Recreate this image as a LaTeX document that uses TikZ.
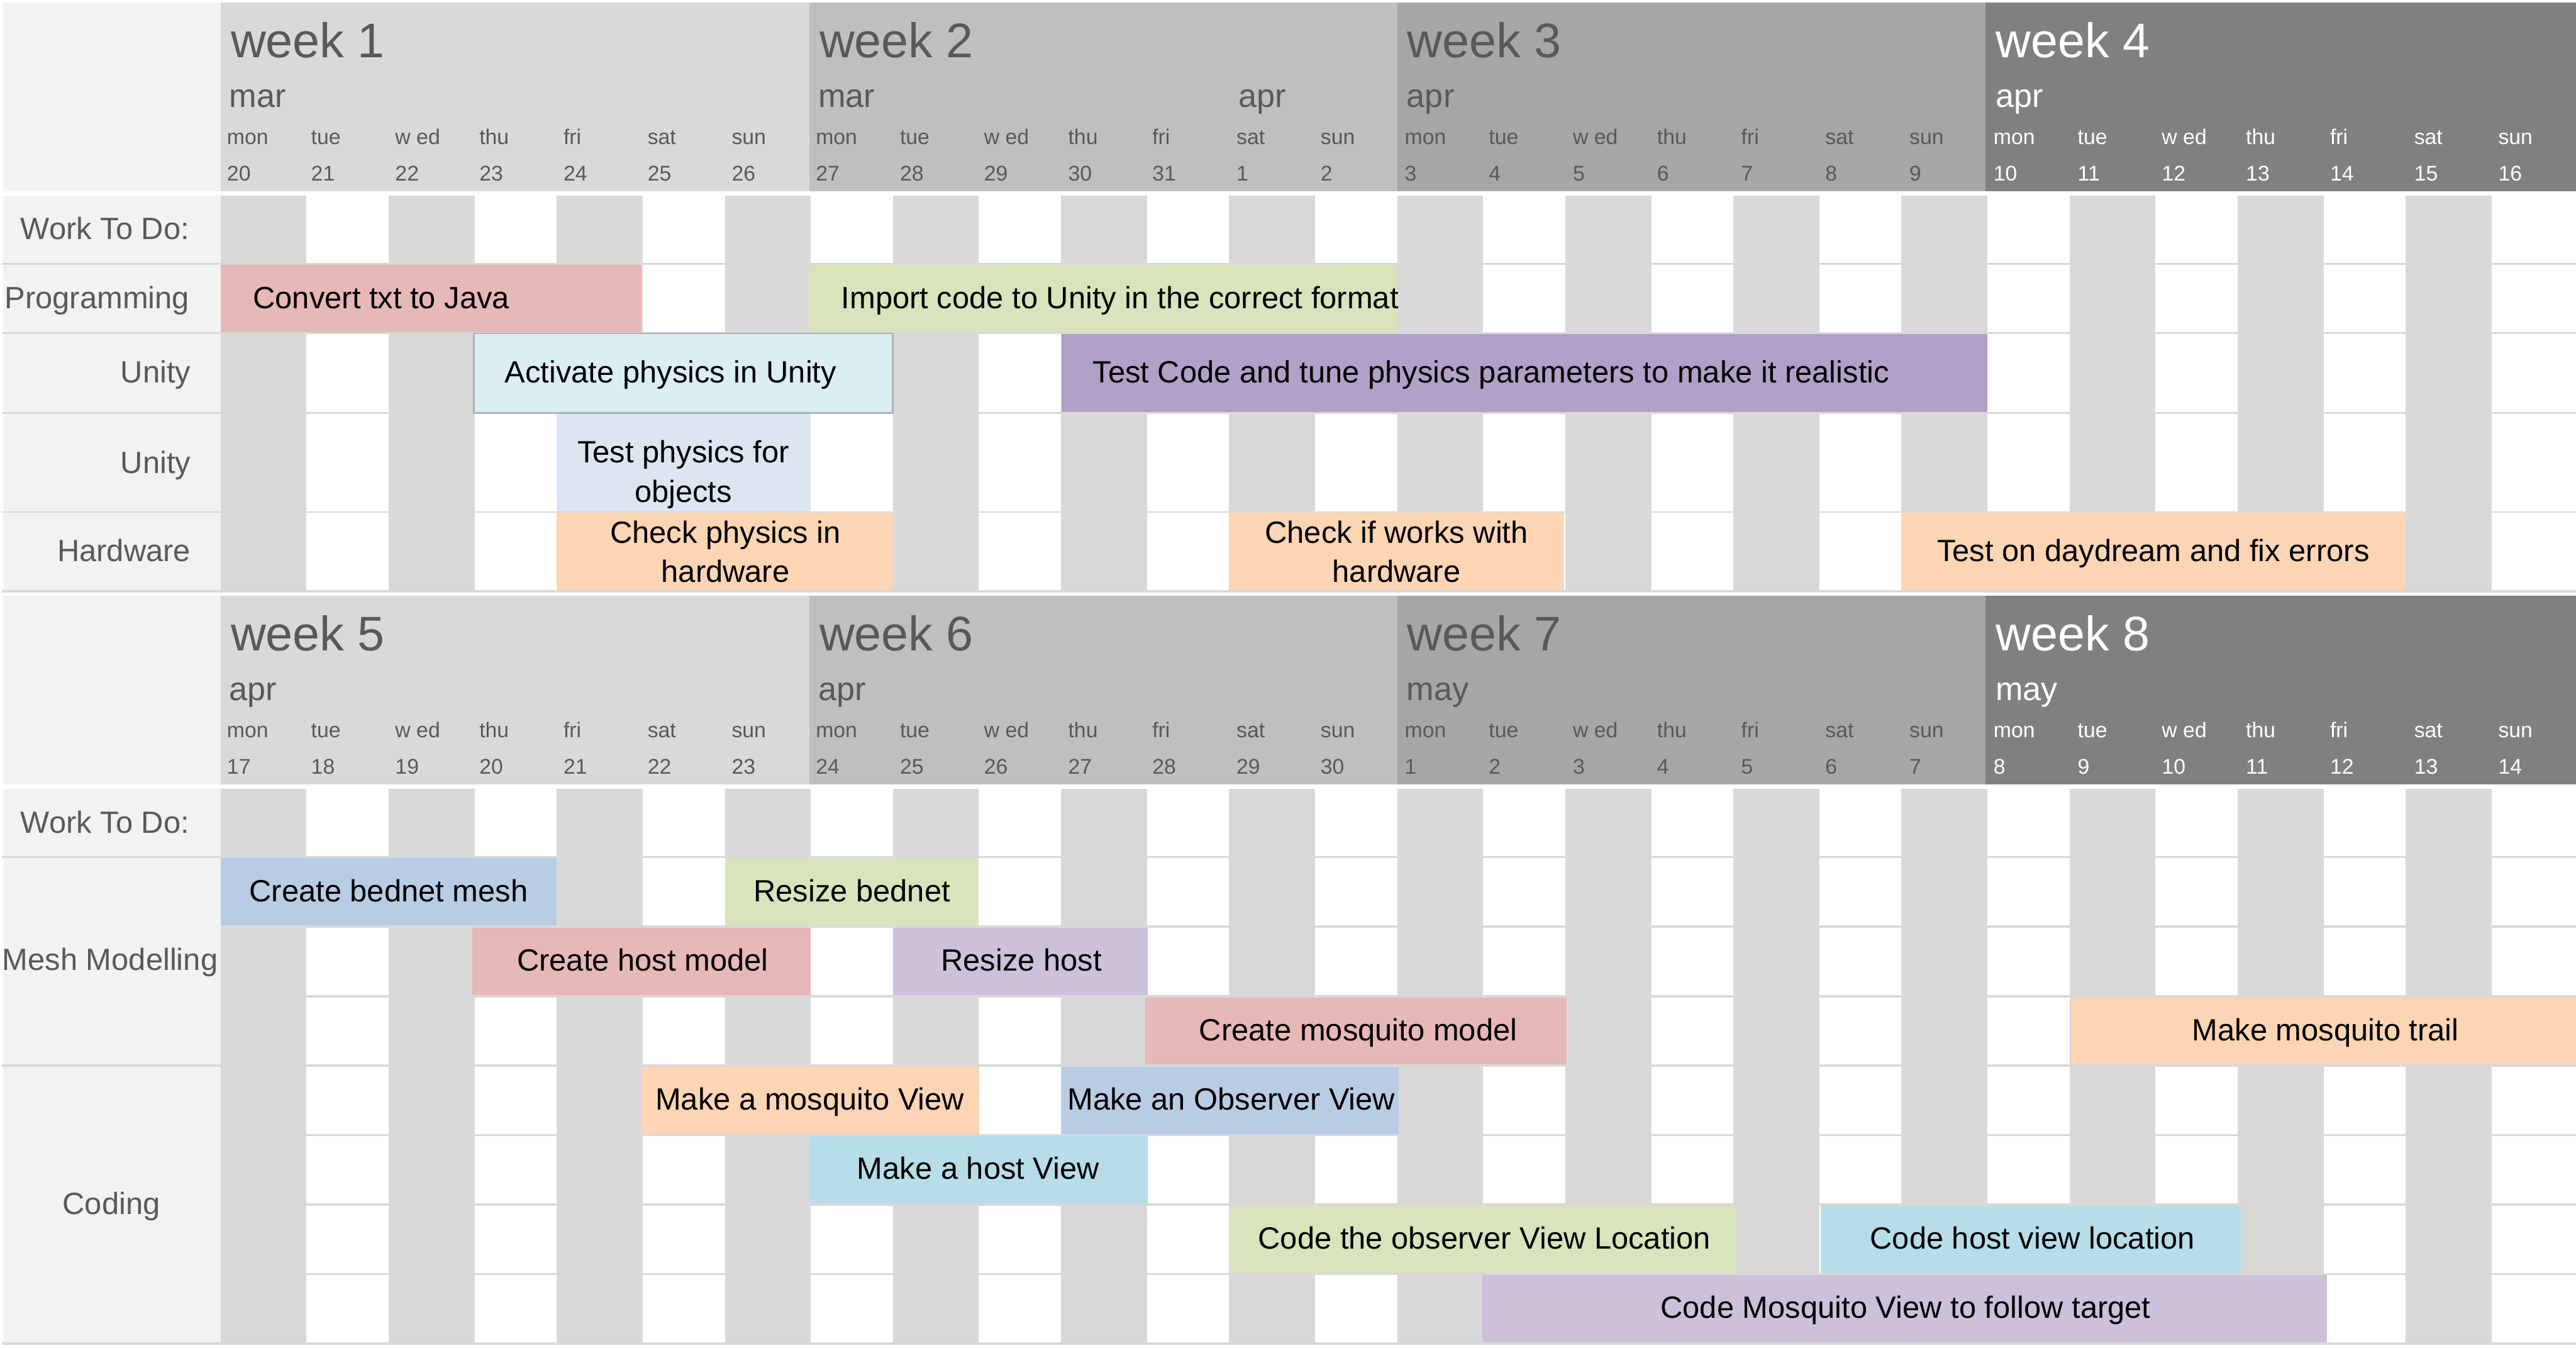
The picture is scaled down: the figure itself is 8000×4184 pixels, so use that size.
\documentclass[tikz,border=0pt]{standalone}
\usepackage{fontspec}
\setmainfont{Liberation Sans}
\definecolor{labbg}{HTML}{F2F2F2}
\definecolor{gridgrey}{HTML}{D9D9D9}
\definecolor{wkA}{HTML}{D9D9D9}
\definecolor{wkB}{HTML}{BFBFBF}
\definecolor{wkC}{HTML}{A6A6A6}
\definecolor{wkD}{HTML}{808080}
\definecolor{htxt}{HTML}{595959}
\definecolor{tpink}{HTML}{E6B8B7}
\definecolor{tgreen}{HTML}{D8E4BC}
\definecolor{tice}{HTML}{DAEEF3}
\definecolor{tpurple}{HTML}{B1A0C7}
\definecolor{tpale}{HTML}{DCE6F1}
\definecolor{tpeach}{HTML}{FCD5B4}
\definecolor{tblue}{HTML}{B8CCE4}
\definecolor{tlav}{HTML}{CCC0DA}
\definecolor{tteal}{HTML}{B7DEE8}
\definecolor{boxline}{HTML}{B2B2B2}
\tikzset{
  weektxt/.style={anchor=base west,inner sep=0pt,font=\fontsize{15.1}{18}\selectfont},
  monthtxt/.style={anchor=base west,inner sep=0pt,font=\fontsize{10.2}{12}\selectfont},
  daytxt/.style={anchor=base west,inner sep=0pt,font=\fontsize{6.6}{8}\selectfont},
  rowlab/.style={inner sep=0pt,text=htxt,font=\fontsize{9.55}{11}\selectfont},
  tasktxt/.style={inner sep=0pt,text=black,font=\fontsize{9.55}{11}\selectfont,anchor=base},
  tasktxtw/.style={tasktxt,anchor=base west},
}
\begin{document}
\begin{tikzpicture}[x=0.1pt,y=-0.1pt]
\useasboundingbox (0,0) rectangle (8000,4184);
\fill[white] (0,0) rectangle (8000,4184);

% ---------------- headers ----------------
\foreach \yo/\qa/\qb/\qc/\qd in {0/1/2/3/4,1842/5/6/7/8} {
  \fill[labbg] (10,7+\yo) rectangle (685,593+\yo);
  \fill[wkA] (685,7+\yo) rectangle (2513,593+\yo);
  \fill[wkB] (2513,7+\yo) rectangle (4339,593+\yo);
  \fill[wkC] (4339,7+\yo) rectangle (6166,593+\yo);
  \fill[wkD] (6166,7+\yo) rectangle (8000,593+\yo);
  \node[weektxt,text=htxt] (week\qa) at (715,179+\yo) {week \qa};
  \node[weektxt,text=htxt] (week\qb) at (2543,179+\yo) {week \qb};
  \node[weektxt,text=htxt] (week\qc) at (4369,179+\yo) {week \qc};
  \node[weektxt,text=white] (week\qd) at (6196,179+\yo) {week \qd};
  \foreach \w in {0,...,3} {
    \foreach \dn [count=\i from 0] in {mon,tue,w ed,thu,fri,sat,sun} {
      \pgfmathsetmacro\xd{685+261.25*(7*\w+\i)+18}
      \ifnum\w=3 \def\tc{white}\else\def\tc{htxt}\fi
      \node[daytxt,text=\tc] (dn\yo-\w-\i) at (\xd,449+\yo) {\dn};
    }
  }
}
% months
\node[monthtxt,text=htxt] (m1) at (710,333) {mar};
\node[monthtxt,text=htxt] (m2) at (2539,333) {mar};
\node[monthtxt,text=htxt] (m2b) at (3845,333) {apr};
\node[monthtxt,text=htxt] (m3) at (4367,333) {apr};
\node[monthtxt,text=white] (m4) at (6196,333) {apr};
\node[monthtxt,text=htxt] (m5) at (710,2175) {apr};
\node[monthtxt,text=htxt] (m6) at (2539,2175) {apr};
\node[monthtxt,text=htxt] (m7) at (4367,2175) {may};
\node[monthtxt,text=white] (m8) at (6196,2175) {may};
% day numbers
\foreach \n [count=\k from 0] in {20,21,22,23,24,25,26,27,28,29,30,31,1,2,3,4,5,6,7,8,9,10,11,12,13,14,15,16} {
  \pgfmathsetmacro\xd{685+261.25*\k+18}
  \ifnum\k>20 \def\tc{white}\else\def\tc{htxt}\fi
  \node[daytxt,text=\tc] (dta\k) at (\xd,561) {\n};
}
\foreach \n [count=\k from 0] in {17,18,19,20,21,22,23,24,25,26,27,28,29,30,1,2,3,4,5,6,7,8,9,10,11,12,13,14} {
  \pgfmathsetmacro\xd{685+261.25*\k+18}
  \ifnum\k>20 \def\tc{white}\else\def\tc{htxt}\fi
  \node[daytxt,text=\tc] (dtb\k) at (\xd,2403) {\n};
}

% ---------------- grid columns ----------------
\foreach \k in {0,2,...,26} {
  \pgfmathsetmacro\xa{685+261*\k}
  \fill[gridgrey] (\xa,607) rectangle ({\xa+267},1833);
  \fill[gridgrey] (\xa,2449) rectangle ({\xa+267},4168);
}
% separators top
\foreach \ya/\yb in {816/822,1031/1037,1280/1285,1587/1592,1833/1840}
  \fill[gridgrey] (5,\ya) rectangle (8000,\yb);
% separators bottom (full)
\foreach \ya/\yb in {2658/2665,3305/3312,4168/4175}
  \fill[gridgrey] (5,\ya) rectangle (8000,\yb);
% separators bottom (body only)
\foreach \ya/\yb in {2873/2881,3090/3097,3521/3528,3737/3744,3953/3959}
  \fill[gridgrey] (685,\ya) rectangle (8000,\yb);

% ---------------- label cells ----------------
\foreach \ya/\yb in {607/816,822/1031,1037/1280,1285/1587,1592/1833,2449/2658,2665/3305,3312/4168}
  \fill[labbg] (10,\ya) rectangle (685,\yb);
\node[rowlab,anchor=base east] (lw1) at (590,744) {Work To Do:};
\node[rowlab,anchor=base east] (lprog) at (590,958) {Programming};
\node[rowlab,anchor=base east] (lu1) at (594,1189) {Unity};
\node[rowlab,anchor=base east] (lu2) at (594,1470) {Unity};
\node[rowlab,anchor=base east] (lhw) at (594,1743) {Hardware};
\node[rowlab,anchor=base east] (lw2) at (590,2586) {Work To Do:};
\node[rowlab,anchor=base] (lmesh) at (342,3012) {Mesh Modelling};
\node[rowlab,anchor=base] (lcode) at (346,3771) {Coding};

% ---------------- tasks, first block ----------------
\fill[tpink] (685,822) rectangle (1993,1031);
\node[tasktxtw] (t1) at (784,958) {Convert txt to Java};
\fill[tgreen] (2513,822) rectangle (4339,1031);
\node[tasktxtw] (t2) at (2611,958) {Import code to Unity in the correct format};
\filldraw[fill=tice,draw=boxline,line width=0.5pt] (1472,1035) rectangle (2772,1282);
\node[tasktxtw] (t3) at (1566,1189) {Activate physics in Unity};
\fill[tpurple] (3297,1037) rectangle (6171,1280);
\node[tasktxtw] (t4) at (3392,1189) {Test Code and tune physics parameters to make it realistic};
\fill[tpale] (1729,1285) rectangle (2518,1587);
\node[tasktxt] (t5a) at (2122,1436) {Test physics for};
\node[tasktxt] (t5b) at (2122,1560) {objects};
\fill[tpeach] (1729,1592) rectangle (2774,1833);
\node[tasktxt] (t6a) at (2253,1686) {Check physics in};
\node[tasktxt] (t6b) at (2253,1808) {hardware};
\fill[tpeach] (3816,1592) rectangle (4858,1833);
\node[tasktxt] (t7a) at (4337,1686) {Check if works with};
\node[tasktxt] (t7b) at (4337,1808) {hardware};
\fill[tpeach] (5904,1592) rectangle (7470,1833);
\node[tasktxt] (t8) at (6687,1743) {Test on daydream and fix errors};

% ---------------- tasks, second block ----------------
\fill[tblue] (685,2665) rectangle (1729,2873);
\node[tasktxt] (b1) at (1207,2799) {Create bednet mesh};
\fill[tgreen] (2252,2665) rectangle (3040,2873);
\node[tasktxt] (b2) at (2646,2799) {Resize bednet};
\fill[tpink] (1466,2881) rectangle (2518,3090);
\node[tasktxt] (b3) at (1996,3015) {Create host model};
\fill[tlav] (2773,2881) rectangle (3564,3090);
\node[tasktxt] (b4) at (3172,3015) {Resize host};
\fill[tpink] (3557,3097) rectangle (4866,3305);
\node[tasktxt] (b5) at (4218,3231) {Create mosquito model};
\fill[tpeach] (6432,3097) rectangle (8000,3305);
\node[tasktxt] (b6) at (7222,3231) {Make mosquito trail};
\fill[tpeach] (1993,3312) rectangle (3041,3521);
\node[tasktxt] (b7) at (2515,3446) {Make a mosquito View};
\fill[tblue] (3297,3312) rectangle (4343,3521);
\node[tasktxt] (b8) at (3824,3446) {Make an Observer View};
\fill[tteal] (2513,3528) rectangle (3564,3737);
\node[tasktxt] (b9) at (3038,3662) {Make a host View};
\fill[tgreen] (3820,3744) rectangle (5389,3953);
\node[tasktxt] (b10) at (4610,3878) {Code the observer View Location};
\fill[tteal] (5654,3744) rectangle (6959,3953);
\node[tasktxt] (b11) at (6312,3878) {Code host view location};
\fill[tlav] (4604,3959) rectangle (7227,4168);
\node[tasktxt] (b12) at (5918,4093) {Code Mosquito View to follow target};
\end{tikzpicture}
\end{document}
